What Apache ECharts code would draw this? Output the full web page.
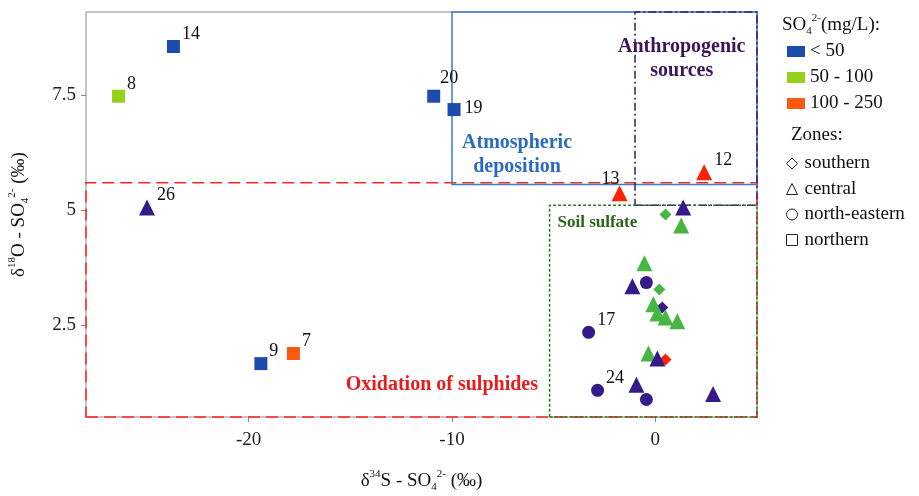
<!DOCTYPE html>
<html>
<head>
<meta charset="utf-8">
<script src="https://cdn.jsdelivr.net/npm/echarts@6/dist/echarts.min.js"></script>
<style>
  html, body { margin: 0; padding: 0; background: #fff; }
  #chart { width: 919px; height: 496px; }
</style>
</head>
<body>
<div id="chart"></div>
<script>
(function() {
  var serif = '"Liberation Serif","DejaVu Serif",serif';

  // --- data ---
  var d34S = [-23.7, -26.4, -10.9, -9.9, -19.4, -17.8, -25.0, -1.76, 2.4,
    0.5, 1.37, 1.27, -0.54, -1.13, -0.44, 0.2, -0.1, 0.34, 0.1, 0.5, 1.08,
    -3.28, -0.34, 0.1, 0.5, -2.84, -0.93, -0.44, 2.84];
  var d18O = [8.55, 7.47, 7.47, 7.18, 1.66, 1.88, 5.05, 5.36, 5.82,
    4.9, 5.05, 4.66, 3.84, 3.34, 3.42, 3.27, 2.95, 2.88, 2.75, 2.66, 2.58,
    2.34, 1.88, 1.77, 1.75, 1.08, 1.2, 0.88, 1.0];
  var zone = ['northern', 'northern', 'northern', 'northern', 'northern', 'northern', 'central', 'central', 'central',
    'southern', 'central', 'central', 'central', 'central', 'north-eastern', 'southern', 'central', 'southern', 'central', 'central', 'central',
    'north-eastern', 'central', 'central', 'southern', 'north-eastern', 'central', 'north-eastern', 'central'];
  var conc = ['< 50', '50 - 100', '< 50', '< 50', '< 50', '100 - 250', '< 50', '100 - 250', '100 - 250',
    '50 - 100', '< 50', '50 - 100', '50 - 100', '< 50', '< 50', '50 - 100', '50 - 100', '< 50', '50 - 100', '50 - 100', '50 - 100',
    '< 50', '50 - 100', '< 50', '100 - 250', '< 50', '< 50', '< 50', '< 50'];
  var sampleId = ['14', '8', '20', '19', '9', '7', '26', '13', '12',
    '', '', '', '', '', '', '', '', '', '', '', '',
    '17', '', '', '', '24', '', '', ''];

  var concClasses = ['< 50', '50 - 100', '100 - 250'];
  var zones = ['southern', 'central', 'north-eastern', 'northern'];
  var xTicks = [-20, -10, 0];
  var yTicks = [2.5, 5, 7.5];

  // source fields: [x0, x1], [y0, y1]
  var regionNames = ['Oxidation of sulphides', 'Atmospheric deposition', 'Anthropogenic sources', 'Soil sulfate'];
  var regionX = [[-28, 5], [-10, 5], [-1, 5], [-5.2, 5]];
  var regionY = [[0.5, 5.59], [5.55, 9.3], [5.1, 9.3], [0.5, 5.1]];
  var regionLabelX = [-10.5, -6.8, 1.3, -2.85];
  var regionLabelY = [1.2, 6.2, 8.28, 4.72];

  // --- styles ---
  var squareColor = { '< 50': '#1c4cac', '50 - 100': '#95d11a', '100 - 250': '#fc5810' };
  var markColor = { '< 50': '#351a8a', '50 - 100': '#47b642', '100 - 250': '#ff2200' };
  var zoneSymbol = { 'southern': 'diamond', 'central': 'triangle', 'north-eastern': 'circle', 'northern': 'rect' };
  var zoneSize = { 'southern': 12, 'central': 16, 'north-eastern': 13, 'northern': 13 };
  var regionStyle = [
    { borderColor: '#ff2424', borderType: [12, 6], borderWidth: 1.5 },
    { borderColor: '#3a7bd0', borderType: 'solid', borderWidth: 1.5 },
    { borderColor: '#3a1f62', borderType: [8, 3, 2, 3], borderWidth: 1.5 },
    { borderColor: '#2a7526', borderType: [3, 2], borderWidth: 1.5 }
  ];
  var regionText = ['#e81c1c', '#2a6bc0', '#3a1658', '#2a631a'];
  var regionFont = [20, 20, 20, 17];
  var labelOffset = { '20': [-4, -18], '19': [0, -1], '13': [-30, -14] };

  var series = [];

  // empty series that only feed the concentration legend
  concClasses.forEach(function(c) {
    series.push({ name: c, type: 'scatter', data: [], itemStyle: { color: squareColor[c], opacity: 1 } });
  });

  // source regions
  series.push({
    name: 'regions', type: 'scatter', data: [], silent: true,
    markArea: {
      silent: true,
      data: regionNames.map(function(n, i) {
        return [
          { xAxis: regionX[i][0], yAxis: regionY[i][0],
            itemStyle: Object.assign({ color: 'rgba(0,0,0,0)', opacity: 1 }, regionStyle[i]) },
          { xAxis: regionX[i][1], yAxis: regionY[i][1] }
        ];
      }),
      label: { show: false }
    }
  });

  // region captions
  series.push({
    name: 'captions', type: 'scatter', symbolSize: 0, silent: true, z: 5,
    itemStyle: { opacity: 1 },
    data: regionNames.map(function(n, i) {
      var txt = n;
      if (i === 1) txt = 'Atmospheric\ndeposition';
      if (i === 2) txt = 'Anthropogenic\nsources';
      return {
        value: [regionLabelX[i], regionLabelY[i]],
        label: {
          show: true, position: 'inside', formatter: txt,
          fontFamily: serif, fontWeight: 'bold', fontSize: regionFont[i], lineHeight: 24,
          color: regionText[i], align: 'center', opacity: 1
        }
      };
    })
  });

  // one series per zone
  zones.forEach(function(z) {
    var pts = [];
    for (var i = 0; i < d34S.length; i++) {
      if (zone[i] !== z) continue;
      var col = z === 'northern' ? squareColor[conc[i]] : markColor[conc[i]];
      pts.push({
        value: [d34S[i], d18O[i]],
        itemStyle: { color: col },
        label: {
          show: sampleId[i] !== '',
          formatter: sampleId[i],
          offset: labelOffset[sampleId[i]] || [-2, -12]
        }
      });
    }
    series.push({
      name: z, type: 'scatter', symbol: zoneSymbol[z], symbolSize: zoneSize[z], z: 10,
      itemStyle: { opacity: 1 },
      data: pts,
      label: { position: 'right', distance: 4, fontFamily: serif, fontSize: 18, color: '#111', opacity: 1 }
    });
  });

  var chart = echarts.init(document.getElementById('chart'), null, { renderer: 'canvas' });

  var richAxis = {
    base: { fontFamily: serif, fontSize: 19, fontWeight: 'normal', color: '#111', lineHeight: 24 },
    sup: { fontFamily: serif, fontSize: 11, fontWeight: 'normal', color: '#111', verticalAlign: 'top', lineHeight: 12 },
    sub: { fontFamily: serif, fontSize: 11, fontWeight: 'normal', color: '#111', verticalAlign: 'bottom', lineHeight: 12 }
  };

  var option = {
    animation: false,
    backgroundColor: '#fff',
    grid: {
      left: 86, right: 162, top: 12, bottom: 79, outerBoundsMode: 'none',
      show: true, borderColor: '#b3b3b3', borderWidth: 1.5
    },
    title: [
      {
        text: '{base|SO}{sub|4}{sup|2-}{base|(mg/L):}',
        left: 777, top: 8,
        textStyle: { fontWeight: 'normal', rich: richAxis }
      },
      {
        text: 'Zones:', left: 786, top: 121,
        textStyle: { fontFamily: serif, fontSize: 19, fontWeight: 'normal', color: '#111' }
      }
    ],
    legend: [
      {
        data: concClasses, orient: 'vertical', left: 782, top: 37, icon: 'rect',
        itemWidth: 18, itemHeight: 11, itemGap: 7, selectedMode: false,
        textStyle: { fontFamily: serif, fontSize: 19, color: '#111' }
      },
      {
        data: zones.map(function(z) {
          return { name: z, icon: zoneSymbol[z],
            itemStyle: { color: 'rgba(0,0,0,0)', borderColor: '#222', borderWidth: 1 } };
        }),
        orient: 'vertical', left: 781, top: 149, itemWidth: 11, itemHeight: 11, itemGap: 6.5,
        selectedMode: false,
        textStyle: { fontFamily: serif, fontSize: 19, color: '#111', padding: [0, 0, 0, 2] }
      }
    ],
    xAxis: {
      type: 'value', min: -28, max: 5,
      name: '{base|δ}{sup|34}{base|S - SO}{sub|4}{sup|2-}{base| (‰)}',
      nameLocation: 'middle', nameGap: 52,
      nameTextStyle: { rich: richAxis },
      axisLine: { show: false, onZero: false },
      axisTick: { show: true, customValues: xTicks, length: 5, lineStyle: { color: '#888' } },
      axisLabel: { customValues: xTicks, fontFamily: serif, fontSize: 19, color: '#222', margin: 14 },
      splitLine: { show: false }
    },
    yAxis: {
      type: 'value', min: 0.5, max: 9.3,
      name: '{base|δ}{sup|18}{base|O - SO}{sub|4}{sup|2-}{base| (‰)}',
      nameLocation: 'middle', nameGap: 55, nameRotate: 90,
      nameTextStyle: { rich: richAxis },
      axisLine: { show: false, onZero: false },
      axisTick: { show: true, customValues: yTicks, length: 5, lineStyle: { color: '#888' } },
      axisLabel: { customValues: yTicks, fontFamily: serif, fontSize: 19, color: '#222', margin: 10 },
      splitLine: { show: false }
    },
    series: series
  };

  chart.setOption(option);
  window.addEventListener('resize', function() { chart.resize(); });
})();
</script>
</body>
</html>
